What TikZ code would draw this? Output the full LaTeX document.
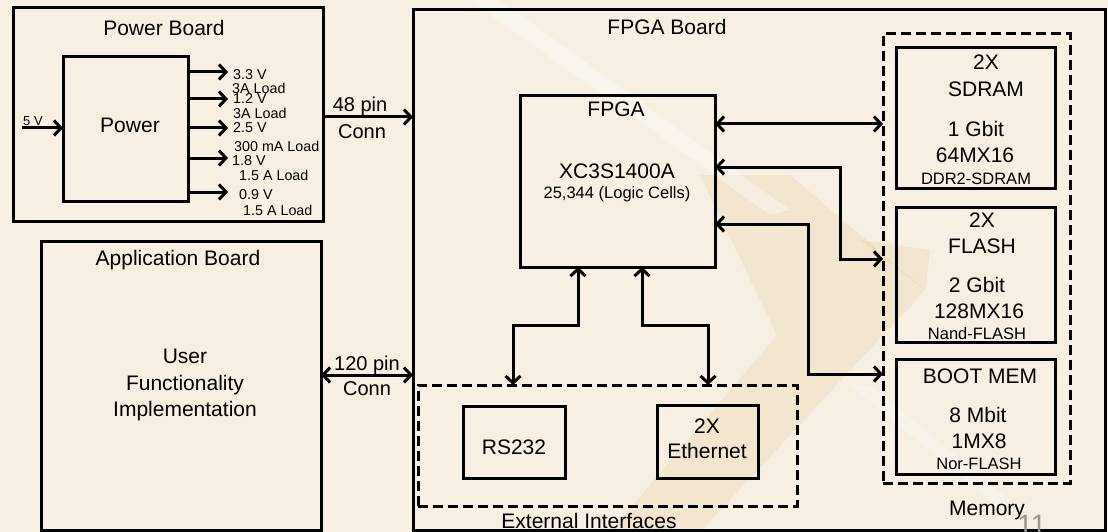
\documentclass[tikz,border=0pt]{standalone}
\usepackage{fontspec}
\setmainfont{Liberation Sans}
\usetikzlibrary{arrows.meta}
\definecolor{bgc}{RGB}{246,239,226}
\definecolor{wm}{RGB}{232,186,118}
\definecolor{pgnum}{RGB}{150,150,150}
\begin{document}
\begin{tikzpicture}[x=1pt,y=-1pt,
  box/.style={draw, line width=3pt, inner sep=0pt, outer sep=0pt},
  dbox/.style={draw, line width=3pt, dash pattern=on 10pt off 5pt, inner sep=0pt, outer sep=0pt},
  tip/.tip={Straight Barb[length=7pt,width=15pt,line width=3pt]},
  arr/.style={line width=3pt, -tip},
  darr/.style={line width=3pt, tip-tip},
  big/.style={anchor=base, inner sep=0pt, font=\fontsize{21}{25}\selectfont},
  mid/.style={anchor=base, inner sep=0pt, font=\fontsize{16.5}{20}\selectfont},
  small/.style={anchor=base west, inner sep=0pt, font=\fontsize{14.3}{17}\selectfont},
  conn/.style={anchor=base, inner sep=0pt, font=\fontsize{20}{24}\selectfont}]
\useasboundingbox (0,0) rectangle (1108,532);
\fill[bgc] (0,0) rectangle (1108,532);
% watermark
\fill[wm, opacity=0.18] (925,290) -- (790,175) -- (700,175) -- (777,335) -- (610,532) -- (700,532) -- cycle;
\fill[wm, opacity=0.18] (925,290) -- (860,240) -- (930,250) -- cycle;
\fill[white, opacity=0.35] (470,0) -- (500,0) -- (790,210) -- (770,215) -- cycle;
\fill[white, opacity=0.3] (850,385) -- (870,385) -- (1010,500) -- (995,505) -- cycle;

% boards
\node[box, minimum width=310, minimum height=213] (pb) at (168,114.5) {};
\node[box, minimum width=125, minimum height=144] (pwr) at (125.5,129) {};
\node[box, minimum width=280, minimum height=289] (ab) at (181,385.5) {};
\node[box, minimum width=692, minimum height=520] (fb) at (759,270) {};
\node[box, minimum width=195, minimum height=171] (fpga) at (617.5,181.5) {};
\node[dbox, minimum width=187, minimum height=449] (mem) at (976.5,258.5) {};
\node[box, minimum width=159, minimum height=140] (sdram) at (975.5,118) {};
\node[box, minimum width=159, minimum height=135] (flash) at (975.5,274.5) {};
\node[box, minimum width=159, minimum height=115] (boot) at (975.5,416.5) {};
\node[dbox, minimum width=379, minimum height=121] (ext) at (607.5,445.5) {};
\node[box, minimum width=102, minimum height=72] (rs) at (514,442) {};
\node[box, minimum width=101, minimum height=73] (eth) at (707.5,441.5) {};

% texts
\node[big] (tpb) at (164,36) {Power Board};
\node[big] (tpwr) at (130,132) {Power};
\node[anchor=base, inner sep=0pt, font=\fontsize{13}{15}\selectfont] (t5v) at (33,125) {5 V};
\node[small] (l1) at (233,80) {3.3 V};
\node[small] (l2) at (232,94) {3A Load};
\node[small] (l3) at (233,104) {1.2 V};
\node[small] (l4) at (233,119) {3A Load};
\node[small] (l5) at (233,133) {2.5 V};
\node[small] (l6) at (234,151) {300 mA Load};
\node[small] (l7) at (232,165) {1.8 V};
\node[small] (l8) at (239,180) {1.5 A Load};
\node[small] (l9) at (239,199) {0.9 V};
\node[small] (l10) at (243,215) {1.5 A Load};
\node[conn] (t48) at (360,112) {48 pin};
\node[conn] (t48c) at (362,139) {Conn};
\node[conn] (t120) at (367,370) {120 pin};
\node[conn] (t120c) at (367,395) {Conn};
\node[big] (tab) at (178,265) {Application Board};
\node[big] (tu1) at (185,363) {User};
\node[big] (tu2) at (185,390) {Functionality};
\node[big] (tu3) at (185,416) {Implementation};
\node[big] (tfb) at (667,35) {FPGA Board};
\node[big] (tf1) at (616,117) {FPGA};
\node[big] (tf2) at (617,178) {XC3S1400A};
\node[mid] (tf3) at (617,198) {25,344 (Logic Cells)};
\node[big] (ts1) at (986,70) {2X};
\node[big] (ts2) at (986,97) {SDRAM};
\node[big] (ts3) at (976,136) {1 Gbit};
\node[big] (ts4) at (975,162) {64MX16};
\node[mid] (ts5) at (976,184) {DDR2-SDRAM};
\node[big] (tl1) at (982,227) {2X};
\node[big] (tl2) at (982,253) {FLASH};
\node[big] (tl3) at (977,292) {2 Gbit};
\node[big] (tl4) at (979,318) {128MX16};
\node[mid] (tl5) at (977,339) {Nand-FLASH};
\node[big] (tb1) at (980,383) {BOOT MEM};
\node[big] (tb2) at (978,422) {8 Mbit};
\node[big] (tb3) at (979,448) {1MX8};
\node[mid] (tb4) at (979,469) {Nor-FLASH};
\node[big] (tmem) at (987,515) {Memory};
\node[big] (trs) at (514,454) {RS232};
\node[big] (te1) at (707,433) {2X};
\node[big] (te2) at (707,458) {Ethernet};
\node[big] (text) at (589,528) {External Interfaces};
\node[anchor=base, inner sep=0pt, text=pgnum, font=\fontsize{28}{30}\selectfont] (pg) at (1032,534) {11};

% connectors
\coordinate (in5) at (22,128);
\draw[arr] (in5) -- (in5 -| pwr.west);
\foreach \yy [count=\i] in {72,99,128,158,192} {
  \coordinate (o\i) at (228,\yy);
  \draw[arr] (o\i -| pwr.east) -- (o\i);
}
\coordinate (c48) at (368,117);
\draw[arr] (c48 -| pb.east) -- (c48 -| fb.west);
\coordinate (c120) at (368,375);
\draw[darr] (c120 -| ab.east) -- (c120 -| fb.west);
\coordinate (m1) at (800,124);
\draw[darr] (m1 -| fpga.east) -- (m1 -| mem.west);
\coordinate (m2a) at (840,167);
\coordinate (m2b) at (840,259);
\draw[darr] (m2a -| fpga.east) -- (m2a) -- (m2b) -- (m2b -| mem.west);
\coordinate (m3a) at (808,224);
\coordinate (m3b) at (808,374);
\draw[darr] (m3a -| fpga.east) -- (m3a) -- (m3b) -- (m3b -| mem.west);
\coordinate (e1a) at (578,325);
\coordinate (e1b) at (513,325);
\draw[darr] (e1a |- fpga.south) -- (e1a) -- (e1b) -- (e1b |- ext.north);
\coordinate (e2a) at (642,325);
\coordinate (e2b) at (708,325);
\draw[darr] (e2a |- fpga.south) -- (e2a) -- (e2b) -- (e2b |- ext.north);
\end{tikzpicture}
\end{document}
